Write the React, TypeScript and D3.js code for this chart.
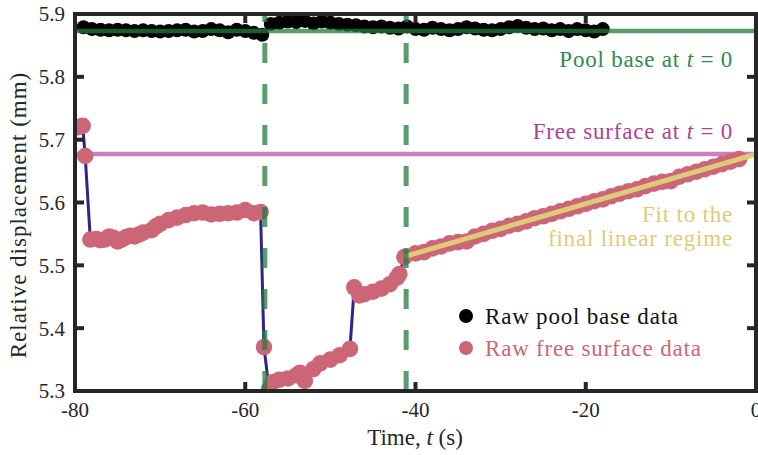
import React, { useEffect, useRef } from 'react'
import { select, scaleLinear, line } from 'd3'

// raw pool base data (black)
const baseTime = [-79, -78, -77, -76, -75, -74, -73, -72, -71, -70, -69, -68, -67, -66, -65, -64, -63, -62, -61, -60, -59, -58,
  -57, -56, -55, -54, -53, -52, -51, -50, -49, -48, -47, -46, -45, -44, -43, -42, -41, -40, -39, -38, -37, -36, -35, -34,
  -33, -32, -31, -30, -29, -28, -27, -26, -25, -24, -23, -22, -21, -20, -19, -18]
const baseValue = [5.879, 5.876, 5.875, 5.874, 5.875, 5.874, 5.873, 5.874, 5.873, 5.872, 5.873, 5.874, 5.875, 5.872, 5.873,
  5.876, 5.874, 5.871, 5.875, 5.873, 5.870, 5.867, 5.884, 5.886, 5.888, 5.887, 5.889, 5.885, 5.888, 5.886, 5.884, 5.883,
  5.882, 5.880, 5.879, 5.880, 5.878, 5.877, 5.880, 5.876, 5.875, 5.878, 5.876, 5.874, 5.876, 5.879, 5.877, 5.875, 5.874,
  5.876, 5.879, 5.881, 5.878, 5.876, 5.877, 5.874, 5.876, 5.873, 5.876, 5.874, 5.872, 5.876]

// raw free surface data (red)
const surfTime = [-79.6, -79.1, -78.8, -78.2, -77.5, -77, -76.5, -76, -75.5, -75, -74.5, -74, -73.5, -73, -72.5, -72, -71,
  -70.5, -70, -69, -68, -67, -66, -65, -64, -63, -62, -61, -60, -59, -58.2, -57.8, -57.2, -56.8, -56, -55, -54, -53.6, -53,
  -52, -51.2, -50, -48.9, -47.7, -47.2, -46.6, -46, -45, -44, -43, -42.2, -41.9, -41.3, -40, -39, -38, -37, -36, -35, -34,
  -33, -32, -31, -30, -29, -28, -27, -26, -25, -24, -23, -22, -21, -20, -19, -18, -17, -16, -15, -14, -13, -12, -11, -10,
  -9, -8, -7, -6, -5, -4, -3, -2]
const surfValue = [5.720, 5.722, 5.674, 5.541, 5.542, 5.540, 5.541, 5.546, 5.544, 5.538, 5.541, 5.545, 5.547, 5.546, 5.549,
  5.552, 5.556, 5.562, 5.566, 5.572, 5.576, 5.580, 5.583, 5.584, 5.581, 5.582, 5.583, 5.584, 5.588, 5.583, 5.585, 5.370,
  5.303, 5.314, 5.318, 5.320, 5.325, 5.329, 5.316, 5.335, 5.344, 5.350, 5.357, 5.367, 5.465, 5.452, 5.454, 5.458, 5.463,
  5.470, 5.480, 5.486, 5.513, 5.519, 5.521, 5.527, 5.530, 5.535, 5.537, 5.538, 5.546, 5.550, 5.555, 5.558, 5.563, 5.566,
  5.570, 5.575, 5.578, 5.582, 5.586, 5.590, 5.594, 5.598, 5.602, 5.605, 5.610, 5.614, 5.618, 5.621, 5.626, 5.630, 5.633,
  5.634, 5.641, 5.645, 5.649, 5.653, 5.657, 5.661, 5.665, 5.669]

// fit to the final linear regime
const fitTime = [-41.3, 0]
const fitValue = [5.514, 5.677]

const poolBaseLevel = 5.873
const freeSurfaceLevel = 5.677
const eventTimes = [-57.7, -41.1]

const xTicks = [-80, -60, -40, -20, 0]
const yTicks = [5.3, 5.4, 5.5, 5.6, 5.7, 5.8, 5.9]

const font = '"Liberation Serif", "Times New Roman", serif'

function App() {
  const ref = useRef<SVGSVGElement>(null)

  useEffect(() => {
    const svg = select(ref.current)
    svg.selectAll('*').remove()

    const margin = { top: 14, right: 2, bottom: 64, left: 75 }
    const W = 758, H = 455
    const x = scaleLinear().domain([-80, 0]).range([margin.left, W - margin.right])
    const y = scaleLinear().domain([5.3, 5.9]).range([H - margin.bottom, margin.top])
    const [x0, x1] = x.range()
    const [y0, y1] = y.range()

    svg.append('defs').append('clipPath').attr('id', 'plotClip')
      .append('rect').attr('x', x0).attr('y', y1).attr('width', x1 - x0).attr('height', y0 - y1)

    const plot = svg.append('g').attr('clip-path', 'url(#plotClip)')

    // free surface at t = 0
    plot.append('line')
      .attr('x1', x0).attr('x2', x1)
      .attr('y1', y(freeSurfaceLevel)).attr('y2', y(freeSurfaceLevel))
      .attr('stroke', '#aa3399').attr('stroke-opacity', 0.62).attr('stroke-width', 4.5)

    const surf = surfTime.map((t, i) => ({ t, v: surfValue[i] }))
    plot.append('path')
      .datum(surf)
      .attr('fill', 'none')
      .attr('stroke', '#332288')
      .attr('stroke-width', 3)
      .attr('d', line<{ t: number, v: number }>().x(d => x(d.t)).y(d => y(d.v)))

    plot.selectAll('.surf').data(surf).enter().append('circle')
      .attr('cx', d => x(d.t)).attr('cy', d => y(d.v)).attr('r', 8.3)
      .attr('fill', '#cc6677')

    const base = baseTime.map((t, i) => ({ t, v: baseValue[i] }))
    plot.selectAll('.base').data(base).enter().append('circle')
      .attr('cx', d => x(d.t)).attr('cy', d => y(d.v)).attr('r', 7)
      .attr('fill', '#000')

    // fit line
    plot.append('line')
      .attr('x1', x(fitTime[0])).attr('x2', x(fitTime[1]))
      .attr('y1', y(fitValue[0])).attr('y2', y(fitValue[1]))
      .attr('stroke', '#ddcc77').attr('stroke-width', 5)

    // pool base at t = 0
    plot.append('line')
      .attr('x1', x0).attr('x2', x1)
      .attr('y1', y(poolBaseLevel)).attr('y2', y(poolBaseLevel))
      .attr('stroke', '#237b3d').attr('stroke-opacity', 0.75).attr('stroke-width', 4.5)

    eventTimes.forEach(t => {
      plot.append('line')
        .attr('x1', x(t)).attr('x2', x(t))
        .attr('y1', y0).attr('y2', y1)
        .attr('stroke', '#237b3d').attr('stroke-opacity', 0.75).attr('stroke-width', 5)
        .attr('stroke-dasharray', '20,21')
    })

    // frame and inward ticks
    const axisColor = '#262626'
    const tl = 9
    xTicks.forEach(t => {
      svg.append('line').attr('x1', x(t)).attr('x2', x(t)).attr('y1', y0).attr('y2', y0 - tl)
        .attr('stroke', axisColor).attr('stroke-width', 4)
      svg.append('line').attr('x1', x(t)).attr('x2', x(t)).attr('y1', y1).attr('y2', y1 + tl)
        .attr('stroke', axisColor).attr('stroke-width', 4)
      svg.append('text').attr('x', x(t)).attr('y', 417).attr('text-anchor', 'middle')
        .attr('font-family', font).attr('font-size', 21).attr('fill', '#262626').text(t)
    })
    yTicks.forEach(v => {
      svg.append('line').attr('x1', x0).attr('x2', x0 + tl).attr('y1', y(v)).attr('y2', y(v))
        .attr('stroke', axisColor).attr('stroke-width', 4)
      svg.append('line').attr('x1', x1).attr('x2', x1 - tl).attr('y1', y(v)).attr('y2', y(v))
        .attr('stroke', axisColor).attr('stroke-width', 4)
      svg.append('text').attr('x', 65).attr('y', y(v)).attr('dy', '0.35em').attr('text-anchor', 'end')
        .attr('font-family', font).attr('font-size', 21).attr('fill', '#262626').text(v.toFixed(1))
    })
    svg.append('rect').attr('x', x0).attr('y', y1).attr('width', x1 - x0).attr('height', y0 - y1)
      .attr('fill', 'none').attr('stroke', axisColor).attr('stroke-width', 4)

    // axis labels
    const xl = svg.append('text').attr('x', 415).attr('y', 445).attr('text-anchor', 'middle')
      .attr('font-family', font).attr('font-size', 23).attr('fill', '#262626')
    xl.append('tspan').text('Time, ')
    xl.append('tspan').attr('font-style', 'italic').text('t')
    xl.append('tspan').text(' (s)')

    svg.append('text').attr('transform', `translate(26, ${215}) rotate(-90)`).attr('text-anchor', 'middle')
      .attr('font-family', font).attr('font-size', 23).attr('fill', '#262626')
      .attr('letter-spacing', 1)
      .text('Relative displacement (mm)')

    // annotations
    const note = (yy: number, color: string, parts: [string, boolean][]) => {
      const tx = svg.append('text').attr('x', 733).attr('y', yy).attr('text-anchor', 'end')
        .attr('font-family', font).attr('font-size', 23).attr('fill', color).attr('letter-spacing', 0.8)
      parts.forEach(([s, it]) => tx.append('tspan').attr('font-style', it ? 'italic' : 'normal').text(s))
    }
    note(67, '#2e8b4f', [['Pool base at ', false], ['t', true], [' = 0', false]])
    note(139, '#aa4499', [['Free surface at ', false], ['t', true], [' = 0', false]])
    note(222, '#ddcc77', [['Fit to the', false]])
    note(246, '#ddcc77', [['final linear regime', false]])

    // legend
    const legend = [
      { label: 'Raw pool base data', color: '#000', y: 316, text: '#111' },
      { label: 'Raw free surface data', color: '#cc6677', y: 348, text: '#cc6677' },
    ]
    legend.forEach(d => {
      svg.append('circle').attr('cx', 466).attr('cy', d.y).attr('r', 7).attr('fill', d.color)
      svg.append('text').attr('x', 485).attr('y', d.y + 7.5)
        .attr('font-family', font).attr('font-size', 23).attr('fill', d.text).attr('letter-spacing', 0.8)
        .text(d.label)
    })
  }, [])

  return (
    <div style={{ position: 'absolute', left: 0, top: 0 }}>
      <svg ref={ref} width={758} height={455} style={{ display: 'block', background: '#fff' }}></svg>
    </div>
  )
}

export default App
